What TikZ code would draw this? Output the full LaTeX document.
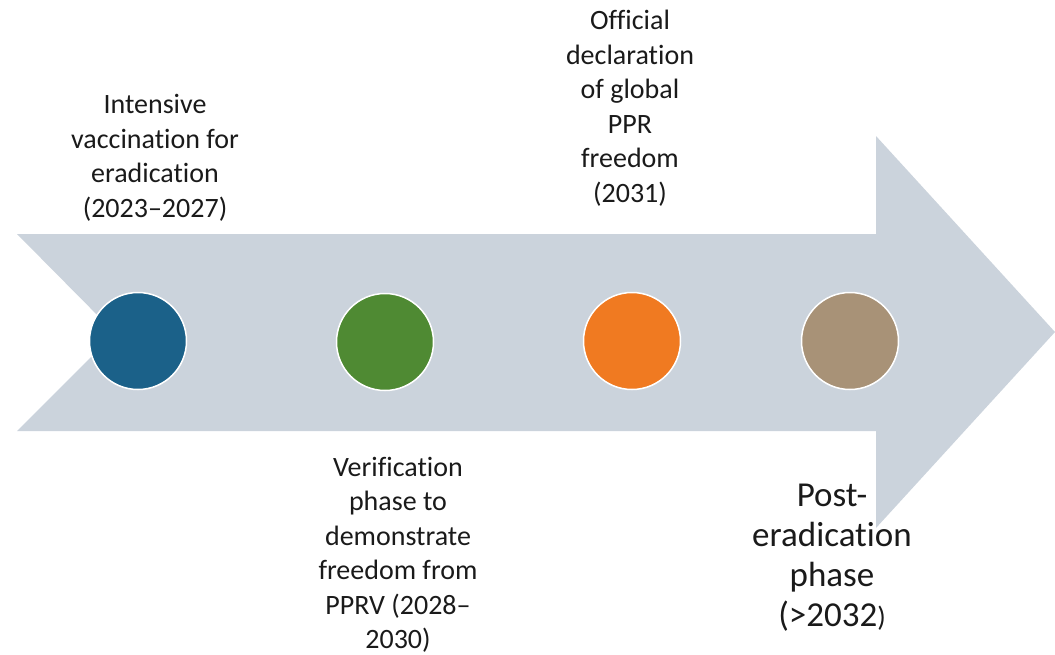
\documentclass[tikz,border=0pt]{standalone}
\usepackage{fontspec}
\setmainfont{Carlito}[Ligatures=NoCommon]
\definecolor{arrowgrey}{HTML}{CBD3DC}
\definecolor{dotblue}{HTML}{1B6189}
\definecolor{dotgreen}{HTML}{4F8A33}
\definecolor{dotorange}{HTML}{F07A21}
\definecolor{dottan}{HTML}{A89277}
\definecolor{labeltext}{HTML}{1A1A1A}
\tikzset{
  dot/.style={circle, draw=white, line width=1.5pt, minimum size=97pt, inner sep=0pt},
  stagelabel/.style={align=center, text=labeltext, inner sep=0pt,
    font=\fontsize{28}{34.5}\selectfont},
  biglabel/.style={align=center, text=labeltext, inner sep=0pt,
    font=\fontsize{35}{40}\selectfont}
}
\begin{document}
\begin{tikzpicture}[x=1pt, y=-1pt]
  \useasboundingbox (0,0) rectangle (1055,654);
  % notched timeline arrow
  \fill[arrowgrey] (17,234) -- (876,234) -- (876,136) -- (1055,332)
    -- (876,528) -- (876,431) -- (17,431) -- (115,333) -- cycle;
  % milestone dots
  \node[dot, fill=dotblue]   (d1) at (138,341) {};
  \node[dot, fill=dotgreen]  (d2) at (385,342) {};
  \node[dot, fill=dotorange] (d3) at (632,341) {};
  \node[dot, fill=dottan]    (d4) at (850,341) {};
  % stage descriptions
  \node[stagelabel] (l1) at (155,158) {Intensive\\vaccination for\\eradication\\(2023--2027)};
  \node[stagelabel] (l2) at (398,555) {Verification\\phase to\\demonstrate\\freedom from\\PPRV (2028--\\2030)};
  \node[stagelabel] (l3) at (630,108) {Official\\declaration\\of global\\PPR\\freedom\\(2031)};
  \node[biglabel]   (l4) at (832,558) {Post-\\eradication\\phase\\(>2032{\fontsize{28}{40}\selectfont)}};
\end{tikzpicture}
\end{document}
